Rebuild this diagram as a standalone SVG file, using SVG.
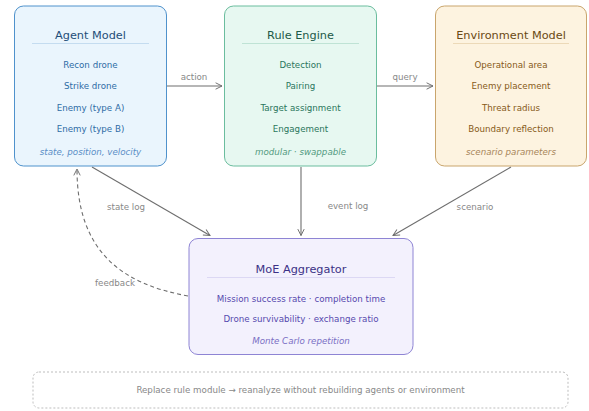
<svg xmlns="http://www.w3.org/2000/svg" width="589" height="411" viewBox="0 0 589 411">
  <style>
    text { font-family: "DejaVu Sans", Verdana, sans-serif; text-anchor: middle; }
    .title { font-size: 11.3px; }
    .item { font-size: 8.7px; }
    .note { font-size: 8.7px; font-style: italic; }
    .lbl { font-size: 8.7px; fill: #888; }
    .edge { fill: none; stroke: #6e6e6e; stroke-width: 1.1; }
    .dash { stroke-dasharray: 4 3; }
    .sep { stroke-width: 1; }
    #agent rect { fill: #eaf5fd; stroke: #4f92cc; }
    #agent .title { fill: #1f4e79; }
    #agent .item { fill: #2e6ca5; }
    #agent .note { fill: #5a8ec6; }
    #agent .sep { stroke: #c4dcf0; }
    #rules rect { fill: #e7f8f1; stroke: #6bbd9e; }
    #rules .title { fill: #1d5a48; }
    #rules .item { fill: #2a765c; }
    #rules .note { fill: #529a80; }
    #rules .sep { stroke: #bfe3d5; }
    #env rect { fill: #fdf3e0; stroke: #c9a56c; }
    #env .title { fill: #6a4914; }
    #env .item { fill: #875a18; }
    #env .note { fill: #a8865a; }
    #env .sep { stroke: #ecd9b8; }
    #moe rect { fill: #f3f1fd; stroke: #8e84d4; }
    #moe .title { fill: #3c3286; }
    #moe .item { fill: #5649ae; }
    #moe .note { fill: #7a6fc4; }
    #moe .sep { stroke: #dcd8f4; }
  </style>
  <defs>
    <marker id="head" viewBox="0 0 10 10" refX="9" refY="5" markerWidth="8" markerHeight="8" markerUnits="userSpaceOnUse" orient="auto">
      <path d="M1,1 L9,5 L1,9" fill="none" stroke="#6e6e6e" stroke-width="1.2"/>
    </marker>
  </defs>

  <!-- connectors -->
  <g id="connectors">
    <line class="edge" x1="167" y1="86" x2="222" y2="86" marker-end="url(#head)"/>
    <text class="lbl" x="194" y="79.5">action</text>
    <line class="edge" x1="377" y1="86" x2="433" y2="86" marker-end="url(#head)"/>
    <text class="lbl" x="405" y="79.5">query</text>
    <line class="edge" x1="92" y1="167" x2="210" y2="235.5" marker-end="url(#head)"/>
    <text class="lbl" x="126" y="210">state log</text>
    <line class="edge" x1="301" y1="167" x2="301" y2="235.5" marker-end="url(#head)"/>
    <text class="lbl" x="348" y="208.5">event log</text>
    <line class="edge" x1="511" y1="167" x2="393" y2="235.5" marker-end="url(#head)"/>
    <text class="lbl" x="475" y="210">scenario</text>
    <path class="edge dash" d="M188,296 C122,284 77,252 77,169" marker-end="url(#head)"/>
    <text class="lbl" x="115" y="286">feedback</text>
  </g>

  <g id="agent">
    <rect x="14.5" y="6" width="152" height="160" rx="9"/>
    <text class="title" x="90.5" y="38.5">Agent Model</text>
    <line class="sep" x1="32" y1="43.5" x2="149" y2="43.5"/>
    <text class="item" x="90.5" y="67.5">Recon drone</text>
    <text class="item" x="90.5" y="89">Strike drone</text>
    <text class="item" x="90.5" y="110.5">Enemy (type A)</text>
    <text class="item" x="90.5" y="132">Enemy (type B)</text>
    <text class="note" x="90.5" y="155">state, position, velocity</text>
  </g>

  <g id="rules">
    <rect x="224.5" y="6" width="152" height="160" rx="9"/>
    <text class="title" x="300.5" y="38.5">Rule Engine</text>
    <line class="sep" x1="242" y1="43.5" x2="359" y2="43.5"/>
    <text class="item" x="300.5" y="67.5">Detection</text>
    <text class="item" x="300.5" y="89">Pairing</text>
    <text class="item" x="300.5" y="110.5">Target assignment</text>
    <text class="item" x="300.5" y="132">Engagement</text>
    <text class="note" x="300.5" y="155">modular · swappable</text>
  </g>

  <g id="env">
    <rect x="435.5" y="6" width="151" height="160" rx="9"/>
    <text class="title" x="511" y="38.5">Environment Model</text>
    <line class="sep" x1="453" y1="43.5" x2="569" y2="43.5"/>
    <text class="item" x="511" y="67.5">Operational area</text>
    <text class="item" x="511" y="89">Enemy placement</text>
    <text class="item" x="511" y="110.5">Threat radius</text>
    <text class="item" x="511" y="132">Boundary reflection</text>
    <text class="note" x="511" y="155">scenario parameters</text>
  </g>

  <g id="moe">
    <rect x="189" y="238.5" width="224" height="116" rx="9"/>
    <text class="title" x="301" y="272.5">MoE Aggregator</text>
    <line class="sep" x1="207" y1="277.5" x2="395" y2="277.5"/>
    <text class="item" x="301" y="302">Mission success rate · completion time</text>
    <text class="item" x="301" y="321.5">Drone survivability · exchange ratio</text>
    <text class="note" x="301" y="343.5">Monte Carlo repetition</text>
  </g>

  <g id="footer">
    <rect x="33" y="372" width="535" height="36" rx="6" fill="none" stroke="#bdbdbd" stroke-width="1" stroke-dasharray="2 2"/>
    <text class="lbl" x="300.5" y="393">Replace rule module → reanalyze without rebuilding agents or environment</text>
  </g>
</svg>
